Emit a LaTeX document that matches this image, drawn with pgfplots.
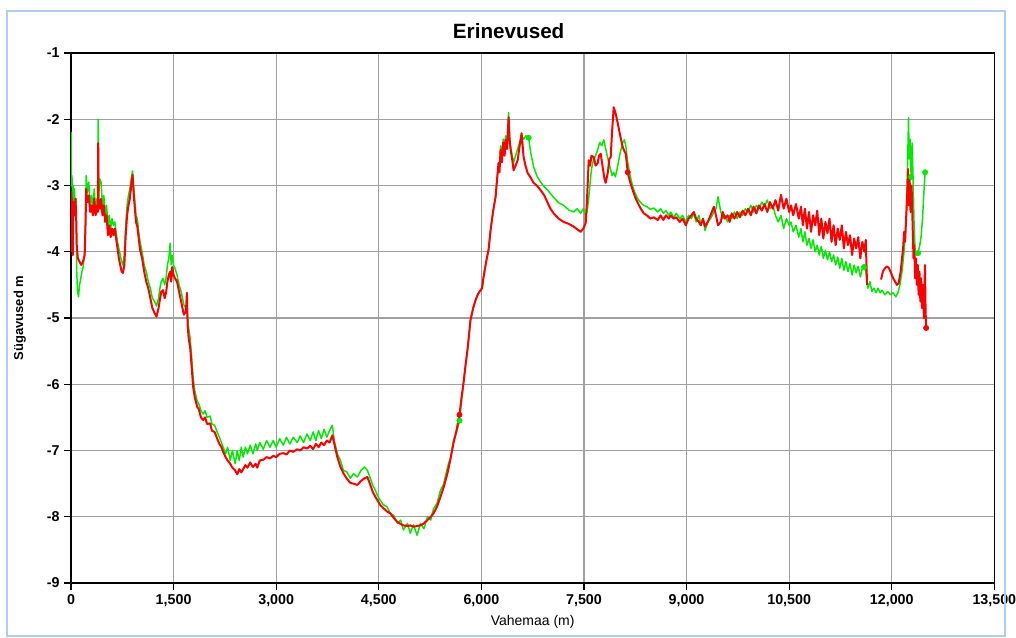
\documentclass[border=0pt]{standalone}
\usepackage{fontspec}
\setmainfont{Liberation Sans}
\usepackage{pgfplots}
\pgfplotsset{compat=1.18}
\definecolor{lgreen}{RGB}{0,235,0}
\definecolor{lred}{RGB}{255,0,0}
\definecolor{gridc}{RGB}{160,160,160}
\definecolor{bord}{RGB}{175,205,238}
\begin{document}
\begin{tikzpicture}
\path[use as bounding box] (0,0) rectangle (762pt,477.75pt);
\begin{axis}[
  at={(53.25pt,40.5pt)}, anchor=south west,
  scale only axis, width=692.5pt, height=397.5pt,
  xmin=0, xmax=13500, ymin=-9, ymax=-1,
  xtick={0,1500,...,13500}, ytick={-9,-8,...,-1},
  xtick pos=bottom, ytick pos=left,
  grid=major, major grid style={gridc, line width=0.9pt},
  axis line style={black, line width=1.1pt},
  tick align=outside, major tick length=5pt,
  tick style={black, line width=0.9pt},
  /pgf/number format/.cd, assume math mode=true, 1000 sep={,},
  /pgfplots/.cd,
  ticklabel style={font=\fontsize{10.7}{12}\selectfont\bfseries},
  scaled x ticks=false,
  title={Erinevused},
  title style={font=\fontsize{15.5}{18}\selectfont\bfseries, at={(axis description cs:0.474,1.026)}, anchor=center},
  xlabel={Vahemaa (m)},
  xlabel style={font=\fontsize{10.5}{12}\selectfont, at={(axis description cs:0.5,-0.0736)}, anchor=center},
  ylabel={Sügavused m},
  ylabel style={font=\fontsize{9.75}{12}\selectfont\bfseries, at={(axis description cs:-0.0555,0.5)}, anchor=center},
  clip=true,
]
% green series
\addplot[lgreen, line width=1.1pt, line join=round] table {
x y
0 -2.95
4 -2.2
8 -3.0
14 -2.85
22 -3.2
30 -3.0
40 -3.25
50 -3.05
62 -3.35
74 -3.2
84 -4.3
95 -4.6
110 -4.68
125 -4.5
140 -4.42
160 -4.3
180 -4.22
200 -4.0
212 -3.5
222 -2.85
240 -3.1
260 -2.95
280 -3.3
300 -3.15
320 -3.35
340 -3.05
360 -3.4
380 -3.2
392 -3.3
398 -2.0
404 -3.1
420 -2.9
440 -2.95
460 -3.3
480 -3.15
500 -3.45
520 -3.3
540 -3.6
560 -3.45
580 -3.65
600 -3.5
620 -3.6
640 -3.55
660 -3.7
680 -3.85
700 -3.95
720 -4.05
740 -4.15
760 -4.2
780 -4.05
800 -3.6
820 -3.3
840 -3.15
860 -3.05
880 -2.9
900 -2.78
915 -3.0
930 -3.2
950 -3.45
970 -3.5
990 -3.7
1010 -3.85
1040 -4.0
1070 -4.2
1100 -4.3
1130 -4.45
1160 -4.55
1190 -4.7
1220 -4.75
1250 -4.82
1280 -4.7
1300 -4.55
1320 -4.45
1345 -4.4
1370 -4.5
1390 -4.4
1410 -4.2
1430 -4.1
1450 -3.87
1465 -4.2
1480 -4.05
1500 -4.2
1520 -4.25
1550 -4.35
1580 -4.5
1610 -4.6
1630 -4.7
1650 -4.8
1680 -4.85
1705 -4.95
1720 -5.15
1742 -5.3
1765 -5.6
1786 -5.9
1810 -6.1
1845 -6.25
1870 -6.3
1900 -6.4
1933 -6.45
1960 -6.4
1990 -6.5
2035 -6.48
2060 -6.6
2100 -6.62
2137 -6.72
2170 -6.8
2200 -6.88
2225 -6.95
2260 -7.05
2290 -6.95
2328 -7.15
2360 -7.0
2400 -7.2
2430 -7.0
2460 -7.15
2490 -6.95
2518 -7.1
2550 -6.95
2580 -7.05
2620 -6.92
2660 -7.05
2700 -6.9
2723 -7.0
2760 -6.88
2811 -6.98
2860 -6.85
2910 -6.95
2957 -6.85
3000 -6.95
3050 -6.82
3104 -6.92
3150 -6.8
3200 -6.9
3250 -6.8
3309 -6.88
3350 -6.78
3400 -6.88
3450 -6.75
3499 -6.85
3540 -6.72
3580 -6.85
3620 -6.7
3660 -6.82
3700 -6.68
3740 -6.8
3780 -6.7
3821 -6.62
3850 -6.85
3894 -7.05
3940 -7.15
3982 -7.3
4030 -7.32
4085 -7.42
4130 -7.35
4187 -7.4
4240 -7.3
4290 -7.25
4333 -7.3
4370 -7.4
4410 -7.52
4450 -7.6
4480 -7.68
4520 -7.75
4568 -7.82
4620 -7.85
4670 -7.95
4720 -7.98
4773 -8.1
4820 -8.05
4860 -8.2
4920 -8.1
4960 -8.25
5007 -8.12
5060 -8.28
5109 -8.1
5160 -8.18
5212 -8.0
5260 -8.05
5300 -7.88
5350 -7.8
5402 -7.6
5450 -7.5
5505 -7.25
5550 -7.1
5592 -6.85
5640 -6.72
5680 -6.55
5710 -6.25
5739 -5.98
5770 -5.7
5797 -5.48
5820 -5.25
5841 -5.03
5880 -4.85
5915 -4.73
5950 -4.64
5988 -4.58
6010 -4.55
6032 -4.38
6070 -4.15
6105 -3.97
6135 -3.67
6170 -3.4
6208 -3.17
6230 -2.9
6251 -2.66
6265 -2.7
6281 -2.4
6300 -2.55
6320 -2.3
6340 -2.5
6354 -2.25
6375 -2.4
6398 -1.9
6412 -2.25
6427 -2.4
6450 -2.55
6471 -2.65
6500 -2.55
6530 -2.45
6560 -2.35
6588 -2.25
6620 -2.3
6650 -2.25
6691 -2.28
6720 -2.5
6764 -2.72
6810 -2.85
6866 -2.95
6920 -3.02
6969 -3.07
7010 -3.12
7056 -3.18
7130 -3.26
7203 -3.3
7280 -3.37
7349 -3.4
7400 -3.35
7452 -3.42
7490 -3.35
7525 -3.45
7545 -3.4
7569 -3.2
7590 -2.96
7610 -2.75
7642 -2.6
7670 -2.55
7701 -2.46
7730 -2.35
7760 -2.4
7790 -2.31
7818 -2.45
7850 -2.6
7880 -2.72
7910 -2.85
7935 -2.8
7960 -2.87
7994 -2.7
8030 -2.5
8067 -2.35
8090 -2.31
8111 -2.4
8140 -2.65
8175 -2.85
8213 -3.02
8250 -3.12
8286 -3.2
8330 -3.26
8374 -3.3
8420 -3.32
8470 -3.36
8520 -3.34
8579 -3.4
8620 -3.35
8660 -3.42
8700 -3.38
8740 -3.45
8769 -3.4
8810 -3.48
8850 -3.42
8900 -3.5
8940 -3.45
8989 -3.55
9030 -3.45
9070 -3.5
9106 -3.42
9140 -3.55
9180 -3.45
9209 -3.6
9240 -3.5
9270 -3.68
9311 -3.55
9350 -3.5
9399 -3.4
9430 -3.35
9460 -3.17
9501 -3.4
9530 -3.5
9560 -3.45
9600 -3.55
9630 -3.45
9660 -3.5
9700 -3.4
9740 -3.5
9780 -3.4
9820 -3.45
9860 -3.35
9900 -3.4
9940 -3.3
9980 -3.4
10020 -3.3
10060 -3.35
10100 -3.25
10140 -3.32
10180 -3.22
10220 -3.35
10260 -3.3
10300 -3.45
10340 -3.55
10380 -3.45
10420 -3.65
10460 -3.5
10500 -3.6
10527 -3.55
10560 -3.7
10600 -3.6
10640 -3.78
10673 -3.65
10700 -3.85
10730 -3.7
10760 -3.9
10790 -3.8
10820 -3.95
10850 -3.82
10880 -4.0
10910 -3.9
10940 -4.05
10970 -3.92
11000 -4.1
11030 -3.98
11060 -4.12
11090 -4.0
11120 -4.15
11150 -4.05
11180 -4.2
11210 -4.08
11240 -4.25
11270 -4.1
11300 -4.28
11330 -4.15
11360 -4.3
11390 -4.18
11420 -4.35
11450 -4.2
11480 -4.32
11510 -4.22
11540 -4.38
11570 -4.25
11595 -4.23
11620 -4.3
11650 -4.55
11680 -4.45
11710 -4.6
11740 -4.55
11770 -4.62
11800 -4.55
11830 -4.62
11860 -4.58
11900 -4.65
11940 -4.6
11980 -4.65
12020 -4.62
12060 -4.68
12090 -4.62
12120 -4.5
12150 -4.3
12180 -4.0
12200 -3.7
12220 -3.2
12235 -2.5
12245 -1.98
12255 -2.6
12268 -2.3
12283 -2.87
12298 -2.36
12312 -2.9
12327 -3.6
12341 -3.97
12360 -4.05
12385 -4.02
12410 -3.9
12429 -3.77
12450 -3.5
12470 -3.1
12488 -2.8
};
\addplot[only marks, mark=*, mark size=2pt, lgreen, mark options={draw=lgreen, fill=lgreen}] table {
x y
5680 -6.55
6691 -2.28
11595 -4.23
12283 -2.87
12385 -4.02
12488 -2.8
};
% red series, part 1
\addplot[lred, line width=1.5pt, line join=round] table {
x y
0 -4.0
6 -3.1
12 -3.5
18 -3.2
26 -4.05
34 -3.3
44 -3.25
54 -3.45
64 -3.2
74 -3.4
84 -3.9
100 -4.1
125 -4.15
150 -4.2
175 -4.15
200 -4.05
212 -3.6
222 -3.05
240 -3.25
260 -3.15
280 -3.4
300 -3.3
320 -3.45
340 -3.2
360 -3.45
380 -3.3
392 -3.4
398 -2.36
404 -3.3
420 -3.35
440 -3.2
460 -3.45
480 -3.3
500 -3.55
520 -3.45
540 -3.75
560 -3.6
580 -3.78
600 -3.65
620 -3.75
640 -3.65
660 -3.8
680 -3.95
700 -4.1
720 -4.2
740 -4.3
760 -4.32
780 -4.2
800 -3.75
820 -3.45
840 -3.3
860 -3.2
880 -3.0
900 -2.84
915 -3.1
930 -3.3
950 -3.55
970 -3.62
990 -3.8
1010 -3.97
1040 -4.1
1070 -4.3
1100 -4.45
1130 -4.55
1160 -4.7
1190 -4.85
1220 -4.92
1250 -4.98
1280 -4.85
1300 -4.72
1320 -4.6
1345 -4.58
1370 -4.7
1390 -4.62
1410 -4.45
1430 -4.35
1450 -4.3
1465 -4.45
1480 -4.23
1500 -4.35
1520 -4.4
1550 -4.45
1580 -4.6
1610 -4.75
1630 -4.85
1650 -4.95
1680 -4.9
1695 -4.62
1705 -5.1
1720 -5.3
1742 -5.44
1765 -5.75
1786 -6.04
1810 -6.2
1845 -6.34
1870 -6.38
1900 -6.5
1933 -6.54
1960 -6.5
1990 -6.6
2035 -6.59
2060 -6.7
2100 -6.72
2137 -6.82
2170 -6.9
2200 -6.95
2225 -7.02
2260 -7.1
2290 -7.15
2328 -7.2
2360 -7.26
2400 -7.3
2430 -7.36
2460 -7.28
2490 -7.33
2518 -7.28
2550 -7.22
2580 -7.26
2620 -7.18
2660 -7.25
2700 -7.2
2723 -7.26
2760 -7.15
2811 -7.14
2860 -7.1
2910 -7.12
2957 -7.08
3000 -7.1
3050 -7.05
3104 -7.04
3150 -7.06
3200 -7.0
3250 -7.02
3309 -6.98
3350 -7.0
3400 -6.95
3450 -6.97
3499 -6.93
3540 -6.98
3580 -6.9
3620 -6.95
3660 -6.88
3700 -6.92
3740 -6.85
3780 -6.88
3821 -6.77
3850 -6.9
3894 -7.1
3940 -7.25
3982 -7.34
4030 -7.42
4085 -7.49
4130 -7.5
4187 -7.52
4240 -7.46
4290 -7.42
4333 -7.4
4370 -7.5
4410 -7.62
4450 -7.7
4480 -7.75
4520 -7.82
4568 -7.87
4620 -7.92
4670 -7.95
4720 -8.02
4773 -8.08
4820 -8.11
4860 -8.13
4920 -8.14
4960 -8.13
5007 -8.15
5060 -8.14
5109 -8.13
5160 -8.1
5212 -8.05
5260 -8.0
5300 -7.95
5350 -7.85
5402 -7.7
5450 -7.55
5505 -7.34
5550 -7.12
5592 -6.89
5640 -6.68
5680 -6.46
5710 -6.2
5739 -5.98
5770 -5.7
5797 -5.48
5820 -5.25
5841 -5.03
5880 -4.85
5915 -4.73
5950 -4.64
5988 -4.58
6010 -4.55
6032 -4.38
6070 -4.15
6105 -3.97
6135 -3.67
6170 -3.4
6208 -3.17
6230 -2.9
6251 -2.66
6265 -2.8
6281 -2.46
6300 -2.65
6320 -2.35
6340 -2.55
6354 -2.31
6375 -2.45
6398 -1.97
6412 -2.3
6427 -2.46
6450 -2.6
6471 -2.77
6500 -2.7
6530 -2.62
6560 -2.4
6588 -2.21
6603 -2.4
6617 -2.57
6645 -2.7
6676 -2.81
6720 -2.88
6764 -2.96
6810 -3.0
6866 -3.07
6920 -3.15
6969 -3.26
7010 -3.35
7056 -3.42
7130 -3.5
7203 -3.55
7280 -3.58
7349 -3.62
7400 -3.66
7452 -3.7
7490 -3.65
7525 -3.57
7545 -3.2
7569 -2.62
7590 -2.7
7610 -2.55
7642 -2.57
7670 -2.7
7701 -2.66
7720 -2.55
7745 -2.52
7770 -2.7
7800 -2.9
7818 -2.96
7850 -2.8
7870 -2.6
7891 -2.57
7910 -2.2
7935 -1.82
7960 -1.9
7994 -2.06
8030 -2.25
8067 -2.42
8090 -2.48
8111 -2.52
8140 -2.8
8175 -2.95
8213 -3.07
8250 -3.18
8286 -3.26
8330 -3.35
8374 -3.42
8420 -3.45
8470 -3.5
8520 -3.48
8579 -3.52
8620 -3.45
8660 -3.52
8700 -3.45
8740 -3.5
8769 -3.45
8810 -3.5
8850 -3.48
8900 -3.55
8940 -3.5
8989 -3.6
9030 -3.5
9070 -3.45
9106 -3.4
9140 -3.5
9180 -3.55
9209 -3.6
9240 -3.5
9270 -3.62
9311 -3.55
9350 -3.45
9399 -3.32
9430 -3.45
9460 -3.6
9501 -3.55
9530 -3.4
9560 -3.5
9600 -3.45
9630 -3.55
9660 -3.42
9700 -3.5
9740 -3.4
9780 -3.48
9820 -3.38
9860 -3.45
9900 -3.35
9940 -3.45
9980 -3.32
10020 -3.42
10060 -3.3
10100 -3.38
10140 -3.28
10180 -3.4
10220 -3.25
10260 -3.35
10300 -3.22
10340 -3.38
10380 -3.14
10420 -3.35
10460 -3.2
10500 -3.4
10527 -3.3
10560 -3.45
10600 -3.28
10640 -3.5
10673 -3.32
10700 -3.6
10730 -3.35
10760 -3.65
10790 -3.4
10820 -3.7
10850 -3.45
10880 -3.6
10910 -3.38
10940 -3.75
10970 -3.5
11000 -3.8
11030 -3.55
11060 -3.72
11090 -3.5
11120 -3.85
11150 -3.6
11180 -3.9
11210 -3.65
11240 -3.82
11270 -3.6
11300 -3.95
11330 -3.7
11360 -3.9
11390 -3.75
11420 -4.05
11450 -3.8
11480 -3.95
11510 -3.78
11540 -4.1
11570 -3.85
11600 -4.0
11620 -3.82
11639 -4.5
};
% red series, part 2
\addplot[lred, line width=1.5pt, line join=round] table {
x y
11844 -4.42
11870 -4.3
11900 -4.25
11932 -4.22
11960 -4.25
11990 -4.32
12020 -4.4
12049 -4.45
12075 -4.5
12100 -4.48
12130 -4.3
12150 -4.1
12166 -3.95
12181 -3.7
12195 -3.85
12210 -3.5
12224 -3.2
12239 -2.75
12250 -3.3
12260 -2.85
12275 -3.4
12290 -3.0
12305 -3.6
12318 -4.1
12330 -3.9
12342 -4.4
12355 -4.1
12368 -4.5
12380 -4.2
12393 -4.65
12405 -4.3
12418 -4.75
12430 -4.4
12443 -4.85
12456 -4.5
12470 -5.0
12485 -4.2
12495 -4.9
12503 -5.15
};
\addplot[only marks, mark=*, mark size=2pt, lred, mark options={draw=lred, fill=lred}] table {
x y
5680 -6.46
8140 -2.8
12503 -5.15
};
\end{axis}
\draw[bord, line width=1pt] (5.25pt,0.75pt) rectangle (753.75pt,469.5pt);
\end{tikzpicture}
\end{document}
